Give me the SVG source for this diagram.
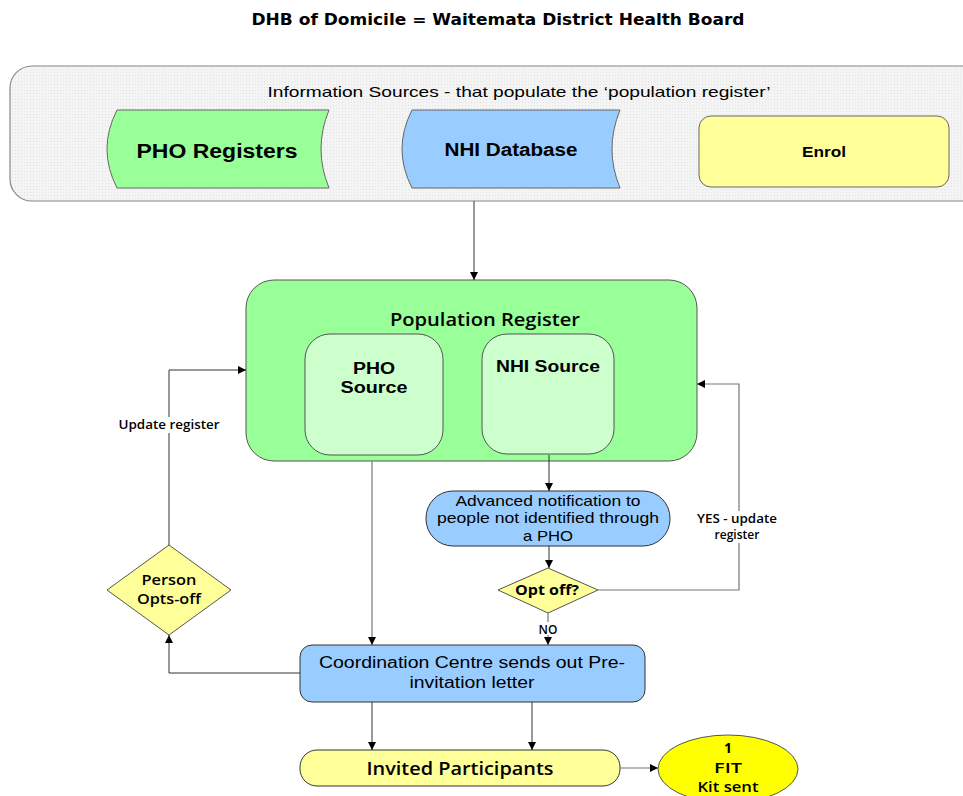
<svg xmlns="http://www.w3.org/2000/svg" width="963" height="796" viewBox="0 0 963 796">
<defs>
<marker id="ah" viewBox="0 0 10 10" refX="10" refY="5" markerWidth="8" markerHeight="8" markerUnits="userSpaceOnUse" orient="auto"><path d="M0,0 L10,5 L0,10 z" fill="#000"/></marker>
<pattern id="grid" width="3" height="3" patternUnits="userSpaceOnUse"><rect width="3" height="3" fill="#f4f4f4"/><rect width="1" height="1" fill="#e2e2e2"/></pattern>
<style>
.ln{fill:none;stroke:#333;stroke-width:1}
.lg{fill:none;stroke:#777;stroke-width:1.2}
.arial{font-family:"Liberation Sans",Arial,sans-serif}
.cal{font-family:"Open Sans","Liberation Sans",sans-serif}
.b{font-weight:bold}
text{text-anchor:middle;fill:#000}
.lbl{font-family:"Open Sans","Liberation Sans",sans-serif;font-size:12px;font-weight:600}
</style>
</defs>
<rect width="963" height="796" fill="#fff"/>
<text x="498" y="25" textLength="493" lengthAdjust="spacingAndGlyphs" style="font-family:'DejaVu Sans',Verdana,sans-serif;font-size:16px;font-weight:bold">DHB of Domicile = Waitemata District Health Board</text>

<g id="info-sources">
<rect x="10" y="66" width="975" height="135" rx="22" fill="url(#grid)" stroke="#888" stroke-width="1.2"/>
<text x="519" y="97" class="arial" font-size="14.5" textLength="503" lengthAdjust="spacingAndGlyphs">Information Sources - that populate the  ‘population register’</text>
</g>
<g id="pho-registers">
<path d="M117,110 L329,110 Q313,149 329,188 L117,188 Q97,149 117,110 z" fill="#99ff99" stroke="#666"/>
<text x="217" y="158" class="arial b" font-size="20" textLength="161" lengthAdjust="spacingAndGlyphs">PHO Registers</text>
</g>
<g id="nhi-database">
<path d="M412,110 L620,110 Q604,149 620,188 L412,188 Q392,149 412,110 z" fill="#99ccff" stroke="#666"/>
<text x="511" y="156" class="arial b" font-size="18" textLength="133" lengthAdjust="spacingAndGlyphs">NHI Database</text>
</g>
<g id="enrol">
<rect x="699" y="116" width="250" height="71" rx="12" fill="#ffff99" stroke="#666"/>
<text x="824" y="157" class="arial b" font-size="14" textLength="44" lengthAdjust="spacingAndGlyphs">Enrol</text>
</g>

<g id="population-register">
<rect x="246" y="280" width="451" height="181" rx="28" fill="#99ff99" stroke="#555"/>
<text x="485" y="326" class="cal" font-size="18" font-weight="600" textLength="190" lengthAdjust="spacingAndGlyphs">Population Register</text>
</g>
<g id="pho-source">
<rect x="305" y="334" width="138" height="121" rx="25" fill="#ccffcc" stroke="#555"/>
<text x="374" y="374" class="arial b" font-size="16" textLength="42" lengthAdjust="spacingAndGlyphs">PHO</text>
<text x="374" y="393" class="arial b" font-size="16" textLength="67" lengthAdjust="spacingAndGlyphs">Source</text>
</g>
<g id="nhi-source">
<rect x="482" y="334" width="132" height="120" rx="25" fill="#ccffcc" stroke="#555"/>
<text x="548" y="372" class="arial b" font-size="16" textLength="104" lengthAdjust="spacingAndGlyphs">NHI Source</text>
</g>

<g id="advanced-notification">
<rect x="426" y="491" width="244" height="55" rx="27" fill="#99ccff" stroke="#333"/>
<text x="548" y="506" class="arial" font-size="15" textLength="185" lengthAdjust="spacingAndGlyphs">Advanced notification to</text>
<text x="548" y="523" class="arial" font-size="15" textLength="222" lengthAdjust="spacingAndGlyphs">people not identified through</text>
<text x="548" y="541" class="arial" font-size="15" textLength="50" lengthAdjust="spacingAndGlyphs">a PHO</text>
</g>
<g id="opt-off">
<path d="M498,590 L548,568 L598,590 L548,613 z" fill="#ffff99" stroke="#555"/>
<text x="547" y="595" class="cal b" font-size="13.5" textLength="64" lengthAdjust="spacingAndGlyphs">Opt off?</text>
</g>
<g id="person-opts-off">
<path d="M107,590 L169,545 L231,590 L169,635 z" fill="#ffff99" stroke="#555"/>
<text x="169" y="585" class="cal" font-size="13.5" font-weight="600" textLength="55" lengthAdjust="spacingAndGlyphs">Person</text>
<text x="169" y="604" class="cal" font-size="13.5" font-weight="600" textLength="64" lengthAdjust="spacingAndGlyphs">Opts-off</text>
</g>
<g id="coordination-centre">
<rect x="300" y="645" width="345" height="57" rx="12" fill="#99ccff" stroke="#333"/>
<text x="472" y="668" class="arial" font-size="16" textLength="306" lengthAdjust="spacingAndGlyphs">Coordination Centre sends out Pre-</text>
<text x="472" y="688" class="arial" font-size="16" textLength="125" lengthAdjust="spacingAndGlyphs">invitation letter</text>
</g>
<g id="invited-participants">
<rect x="300" y="750" width="320" height="36" rx="17" fill="#ffff99" stroke="#333"/>
<text x="460" y="775" class="cal" font-size="18" font-weight="600" textLength="187" lengthAdjust="spacingAndGlyphs">Invited Participants</text>
</g>
<g id="fit-kit">
<ellipse cx="728" cy="769" rx="70" ry="34" fill="#ffff00" stroke="#555"/>
<text x="728" y="753" class="cal b" font-size="14">1</text>
<text x="728" y="773" class="cal" font-size="14" font-weight="600" textLength="28" lengthAdjust="spacingAndGlyphs">FIT</text>
<text x="728" y="792" class="cal" font-size="14" font-weight="600" textLength="61" lengthAdjust="spacingAndGlyphs">Kit sent</text>
</g>

<g id="connectors">
<path class="ln" d="M474,201 L474,280" marker-end="url(#ah)"/>
<path class="ln" d="M169,545 L169,370 L246,370" marker-end="url(#ah)"/>
<rect x="114" y="417" width="110" height="16" fill="#fff"/>
<text x="169" y="429" class="lbl" font-weight="normal" textLength="101" lengthAdjust="spacingAndGlyphs">Update register</text>
<path class="ln" d="M300,673 L169,673 L169,635" marker-end="url(#ah)"/>
<path class="lg" d="M372,461 L372,645" marker-end="url(#ah)"/>
<path class="ln" d="M549,455 L549,491" marker-end="url(#ah)"/>
<path class="ln" d="M549,546 L549,568" marker-end="url(#ah)"/>
<path class="lg" d="M598,590 L739,590 L739,384 L697,384" marker-end="url(#ah)"/>
<rect x="694" y="511" width="90" height="32" fill="#fff"/>
<text x="737" y="523" class="lbl" font-size="11" textLength="80" lengthAdjust="spacingAndGlyphs">YES - update</text>
<text x="737" y="539" class="lbl" font-size="11">register</text>
<path class="lg" d="M548,613 L548,645" marker-end="url(#ah)"/>
<rect x="536" y="622" width="24" height="13" fill="#fff"/>
<text x="548" y="634" class="lbl">NO</text>
<path class="ln" d="M372,702 L372,750" marker-end="url(#ah)"/>
<path class="ln" d="M532,702 L532,750" marker-end="url(#ah)"/>
<path class="lg" d="M620,768 L658,768" marker-end="url(#ah)"/>
</g>
</svg>
